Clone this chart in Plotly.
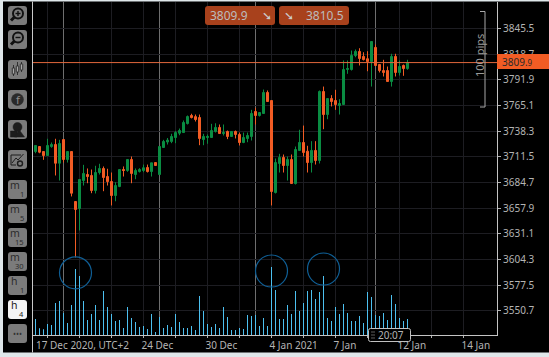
import plotly.graph_objects as go

# ---------- data (4-hour bars) ----------
bar_index = list(range(94))
open_ = [3717.1,3722.3,3717.1,3712.9,3722.3,3724.4,3704.9,3729.6,3708.8,3717.1,3664.9,3657.6,3686.8,3693.1,3692.1,3676.4,3695.2,3699.4,3691.0,3685.8,
         3671.2,3680.6,3698.3,3697.3,3708.8,3693.1,3696.2,3697.3,3700.4,3696.2,3705.6,3693.1,3721.3,3727.0,3727.6,3731.7,3736.2,3736.9,3746.3,3754.7,
         3753.5,3752.6,3729.6,3731.7,3731.7,3738.0,3742.2,3735.9,3738.0,3732.8,3738.0,3734.9,3726.5,3730.7,3732.8,3758.9,3754.7,3756.8,3778.7,3770.3,
         3674.3,3704.6,3710.9,3702.5,3708.8,3683.7,3718.2,3726.5,3717.4,3705.6,3718.2,3707.7,3779.7,3755.7,3772.4,3770.3,3765.1,3766.2,3802.7,3802.7,
         3817.3,3821.5,3816.3,3813.9,3811.0,3825.7,3807.9,3801.6,3801.6,3790.2,3816.3,3799.6,3806.9,3803.7]
high = [3723.4,3722.3,3717.1,3730.4,3726.5,3730.4,3729.3,3729.6,3717.1,3717.1,3664.9,3687.9,3703.2,3699.4,3698.3,3702.2,3704.3,3701.5,3699.1,3695.2,
        3685.1,3698.3,3701.5,3708.8,3711.9,3699.4,3699.7,3703.5,3703.5,3705.3,3705.6,3722.3,3729.3,3731.2,3735.6,3738.3,3741.1,3749.5,3754.7,3756.5,
        3755.7,3755.7,3735.6,3734.9,3746.0,3746.6,3745.3,3745.3,3739.0,3738.0,3739.0,3736.9,3736.9,3736.9,3760.6,3762.7,3757.8,3781.8,3780.8,3770.3,
        3709.8,3714.7,3714.0,3711.9,3714.0,3722.3,3739.8,3744.2,3723.1,3727.9,3727.9,3780.8,3784.9,3772.4,3775.9,3781.5,3771.7,3812.1,3812.1,3822.5,
        3823.6,3824.9,3820.7,3821.8,3831.9,3828.8,3807.9,3812.8,3805.8,3819.1,3819.1,3812.1,3807.9,3812.8]
low = [3715.3,3715.3,3708.4,3712.9,3721.0,3692.1,3686.8,3705.6,3705.6,3670.2,3606.5,3634.7,3681.6,3684.0,3673.6,3673.3,3693.1,3675.7,3681.6,3660.8,
       3665.2,3679.9,3691.0,3695.9,3684.0,3688.2,3695.2,3695.5,3695.2,3691.0,3702.5,3693.1,3721.3,3724.4,3725.8,3725.8,3734.1,3736.9,3745.3,3751.6,
       3748.4,3723.7,3723.7,3725.2,3731.7,3736.9,3735.9,3733.8,3730.0,3732.8,3730.7,3723.4,3725.8,3726.8,3728.6,3745.3,3753.6,3756.8,3769.3,3660.8,
       3673.3,3695.2,3695.2,3686.8,3683.7,3682.7,3718.2,3711.9,3695.2,3695.2,3703.5,3704.6,3740.4,3750.8,3764.1,3760.6,3755.7,3766.2,3798.2,3801.6,
       3815.5,3806.9,3812.1,3800.9,3784.9,3806.9,3799.6,3795.4,3790.2,3784.9,3795.4,3796.4,3796.1,3802.4]
close = [3723.4,3716.4,3712.9,3723.4,3724.4,3704.9,3725.5,3708.8,3717.1,3673.6,3656.6,3687.9,3694.2,3691.0,3676.4,3695.2,3699.4,3690.0,3685.8,3671.2,
         3681.6,3698.3,3697.3,3708.8,3694.2,3697.3,3698.3,3700.1,3696.2,3705.3,3702.5,3722.3,3727.6,3729.0,3732.8,3736.9,3739.0,3747.4,3753.6,3752.6,
         3750.5,3730.7,3732.8,3732.8,3739.0,3742.2,3735.9,3736.9,3732.8,3738.0,3734.9,3726.5,3731.7,3733.8,3756.8,3754.7,3757.8,3778.7,3769.3,3675.4,
         3705.6,3710.9,3702.5,3708.8,3683.7,3719.2,3726.5,3716.1,3705.6,3718.2,3707.7,3779.7,3755.7,3772.4,3769.3,3766.2,3767.2,3802.7,3803.7,3817.3,
         3821.5,3814.2,3813.1,3811.0,3831.9,3806.9,3801.6,3799.6,3790.2,3816.3,3799.6,3805.8,3803.7,3809.9]
volume = [160,67,57,110,100,320,340,220,120,300,660,590,340,150,210,300,150,440,280,210,140,150,70,280,170,130,80,90,60,210,30,180,70,100,80,210,130,
          70,70,90,50,390,240,110,80,110,70,280,180,50,50,70,60,200,190,200,90,170,90,680,450,160,160,300,210,440,240,320,440,450,360,430,590,170,140,280,210,310,220,140,140,190,
          120,430,380,200,190,220,150,400,310,170,140,160]

price_ticks = [3845.5,3818.7,3791.9,3765.1,3738.3,3711.5,3684.7,3657.9,3631.1,3604.3,3577.5,3550.7]
time_tick_bars = [3,11,19,27,35,43,51,59,67,75,83,91,99,107]
time_tick_labels = ["","","","24 Dec","","30 Dec","","4 Jan 2021","","7 Jan","","12 Jan","","14 Jan"]
first_time_label = "17 Dec 2020, UTC+2"
separator_bars = [7,31,55,85]
circled_bars = [10,59,72]
bid = 3809.9
ask = 3810.5
pips_label = "100 pips"
clock_label = "20:07"

# ---------- styling / layout ----------
W, H = 549, 357
L, R, T, B = 33, 497, 2, 335
GREEN, ORANGE = "#0a8c42", "#f25c24"
TXT = "#b4b4b4"
FONT = "Noto Sans"

def px(x): return (x - L) / (R - L)
def py(y): return (B - y) / (B - T)

shapes, ann = [], []

def rrect(x0, y0, x1, y1, r, fill, line=None, lw=0, layer="above"):
    a, b, c, d = px(x0), px(x1), py(y0), py(y1)
    rx, ry = r / (R - L), r / (B - T)
    p = (f"M{a+rx},{c} L{b-rx},{c} Q{b},{c} {b},{c-ry} L{b},{d+ry} Q{b},{d} {b-rx},{d} "
         f"L{a+rx},{d} Q{a},{d} {a},{d+ry} L{a},{c-ry} Q{a},{c} {a+rx},{c} Z")
    shapes.append(dict(type="path", path=p, xref="paper", yref="paper", fillcolor=fill,
                       line=dict(color=line or fill, width=lw), layer=layer))

def poly(pts, color="#1d1d1d", lw=1.5, fill=None, close=False):
    p = "M" + " L".join(f"{px(x)},{py(y)}" for x, y in pts) + (" Z" if close else "")
    shapes.append(dict(type="path", path=p, xref="paper", yref="paper",
                       line=dict(color=color, width=lw), fillcolor=fill or "rgba(0,0,0,0)"))

def circ(cx, cy, r, color, lw=1.2, fill="rgba(0,0,0,0)"):
    shapes.append(dict(type="circle", xref="paper", yref="paper", x0=px(cx - r), x1=px(cx + r),
                       y0=py(cy + r), y1=py(cy - r), line=dict(color=color, width=lw), fillcolor=fill))

def text(x, y, s, size=10, color=TXT, anchor="center", angle=0, fam=FONT):
    ann.append(dict(x=px(x), y=py(y), xref="paper", yref="paper", text=s, showarrow=False,
                    font=dict(size=size, color=color, family=fam), xanchor=anchor, yanchor="middle",
                    textangle=angle, borderpad=0, align="center"))

# dark panel behind everything
shapes.append(dict(type="rect", xref="paper", yref="paper", x0=px(3), x1=px(549), y0=py(352.5), y1=py(1.5),
                   fillcolor="#000000", line=dict(width=0), layer="below"))
# left border of chart
poly([(32.5, 1.5), (32.5, 352.5)], color="#c9c9c9", lw=1)

# separators
for b in separator_bars:
    shapes.append(dict(type="line", x0=b, x1=b, xref="x", yref="paper", y0=0, y1=1,
                       line=dict(color="#6e6e6e", width=1), layer="below"))
# current price
shapes.append(dict(type="line", xref="paper", x0=0, x1=1, yref="y", y0=bid, y1=bid,
                   line=dict(color="#e2683c", width=1)))

# toolbar buttons
BTN = "#7b7b7b"
for y0, y1 in [(6,25),(30,49),(60,79),(90,109),(120,139),(150,169),(180,199),(204,223),(228,247),(252,271),(276,295)]:
    rrect(8, y0, 27, y1, 3, BTN)
rrect(8, 300, 27, 319, 3, "#f4f4f4")
rrect(8, 324, 27, 343, 3, BTN)

# magnifier icons
for cy, sign in [(13.5, "+"), (37.5, "-")]:
    circ(18, cy, 5, "#111111", lw=2)
    poly([(14.5, cy + 3.5), (11, cy + 7)], color="#111111", lw=3)
    poly([(15.5, cy), (20.5, cy)], color="#111111", lw=1.4)
    if sign == "+":
        poly([(18, cy - 2.5), (18, cy + 2.5)], color="#111111", lw=1.4)
# candle icon
for x, a, b, c, d in [(13.5, 65, 68, 74, 76), (17.5, 62, 66, 72, 75), (21.5, 62, 64, 70, 72)]:
    poly([(x, a), (x, d)], lw=0.8)
    rrect(x - 1.2, b, x + 1.2, c, 0.3, "#a8a8a8", "#1d1d1d", 0.8)
# facebook icon
circ(17.5, 99.5, 6, "#2a2a2a", lw=0.5, fill="#2a2a2a")
text(18, 100, "f", size=11, color="#8a8a8a", fam="DejaVu Sans")
# objects icon
circ(17.5, 127, 4.5, "#1d1d1d", lw=0.5, fill="#1d1d1d")
poly([(10.5, 131), (17, 131), (17, 137), (10.5, 137)], fill="#1d1d1d", close=True, lw=0.5)
poly([(19, 129.5), (24.5, 137), (14.5, 137)], fill="#1d1d1d", close=True, lw=0.5)
# drawing icon
poly([(21, 155), (11, 155), (11, 165), (16, 165)], lw=1)
poly([(12, 163), (16, 158), (18, 160), (23.5, 154)], lw=1)
circ(20, 163.5, 2.5, "#1d1d1d", lw=1.4)
# timeframe labels
for y, a, b, c in [(186,"m","1","#2b2b2b"),(210,"m","5","#2b2b2b"),(234,"m","15","#2b2b2b"),(258,"m","30","#2b2b2b"),
                   (282,"h","1","#2b2b2b"),(306,"h","4","#222222")]:
    text(14.5, y - 1, a, size=10.5, color=c)
    text(25, y + 8, b, size=7.5, color=c, anchor="right")
text(17.5, 333, "•••", size=8, color="#333333")

# price tags at top
rrect(205, 6, 275, 25, 3, "#a8411c")
rrect(279, 6, 349, 25, 3, "#a8411c")
text(209, 15, f"{bid}", size=12, color="#bcbcbc", anchor="left")
text(345, 15, f"{ask}", size=12, color="#bcbcbc", anchor="right")
text(267, 15.5, "➘", size=12, color="#cccccc", fam="DejaVu Sans")
text(289, 15.5, "➘", size=12, color="#cccccc", fam="DejaVu Sans")

# 100 pips bracket
poly([(480, 11.5), (485, 11.5), (485, 107), (480, 107)], color="#a8a8a8", lw=1)
text(479, 56, pips_label, size=11, color="#9a9a9a", angle=-90)

# circles round the volume spikes
for b, cy in zip(circled_bars, [272.8, 271, 269]):
    cx = 35.5 + 4 * b
    circ(cx, cy, 16, "#0f5f96", lw=1.2)

# current price tag
shapes.append(dict(type="rect", xref="paper", yref="paper", x0=px(497), x1=px(549), y0=py(69), y1=py(54),
                   fillcolor="#f25c24", line=dict(width=0)))
text(501, 61.5, f'{str(bid)[:5]}<span style="font-size:8px">{str(bid)[5:]}</span>', size=10, color="#2a2a2a", anchor="left")

# clock
rrect(368.5, 328.5, 410.5, 341.5, 2, "#000000", "#c0c0c0", 1)
for yy in (332, 335, 338):
    for xx in (372, 374):
        poly([(xx, yy - 0.6), (xx, yy + 0.6)], color="#9a9a9a", lw=1)
text(391, 335.5, clock_label, size=10, color=TXT)

# first x label (clamped to the left edge)
text(35, 345.5, first_time_label, size=10, color=TXT, anchor="left")

fig = go.Figure()
fig.add_trace(go.Candlestick(
    x=bar_index, open=open_, high=high, low=low, close=close, whiskerwidth=0,
    increasing=dict(line=dict(color=GREEN, width=1), fillcolor=GREEN),
    decreasing=dict(line=dict(color=ORANGE, width=1), fillcolor=ORANGE),
    showlegend=False, xaxis="x", yaxis="y"))
fig.add_trace(go.Bar(x=bar_index, y=volume, width=0.25, marker=dict(color="#4cc0f0", line=dict(width=0)),
                     showlegend=False, xaxis="x", yaxis="y2"))

GRID = "#1d1d22"
def y_of(pxv): return 3874.7 - 1.0436 * (pxv - 0.5)
fig.update_layout(
    width=W, height=H, autosize=False,
    margin=dict(l=L, r=W - R, t=T, b=H - B, pad=0),
    paper_bgcolor="#dfe7ea", plot_bgcolor="rgba(0,0,0,0)",
    boxgap=0.5, boxgroupgap=0, showlegend=False, hovermode=False, dragmode=False,
    shapes=shapes, annotations=ann,
    font=dict(family=FONT, size=10, color=TXT),
    xaxis=dict(range=[(L - 35.5) / 4, (R - 35.5) / 4], tickmode="array", tickvals=time_tick_bars,
               ticktext=time_tick_labels, ticks="outside", ticklen=2, tickcolor="#b0b0b0",
               showgrid=True, gridcolor=GRID, gridwidth=1, zeroline=False, showline=True,
               linecolor="#c4c4c4", linewidth=1, rangeslider=dict(visible=False),
               ticklabelposition="outside right", ticklabelshift=-3, ticklabelstandoff=1,
               tickfont=dict(family=FONT, size=10, color=TXT)),
    yaxis=dict(range=[y_of(B), y_of(T)], side="right", tickmode="array", tickvals=price_ticks,
               ticktext=[f"{v:.1f}" for v in price_ticks], ticks="outside", ticklen=3, tickcolor="#b0b0b0",
               showgrid=True, gridcolor=GRID, gridwidth=1, zeroline=False, showline=True,
               linecolor="#c4c4c4", linewidth=1, tickfont=dict(family=FONT, size=10, color=TXT)),
    yaxis2=dict(overlaying="y", range=[0, (B - T) * 10], side="left", visible=False, showgrid=False),
)
fig.write_html("out.html", config=dict(displayModeBar=False),
               post_script="document.body.style.margin='0';document.body.style.background='#dfe7ea';")
